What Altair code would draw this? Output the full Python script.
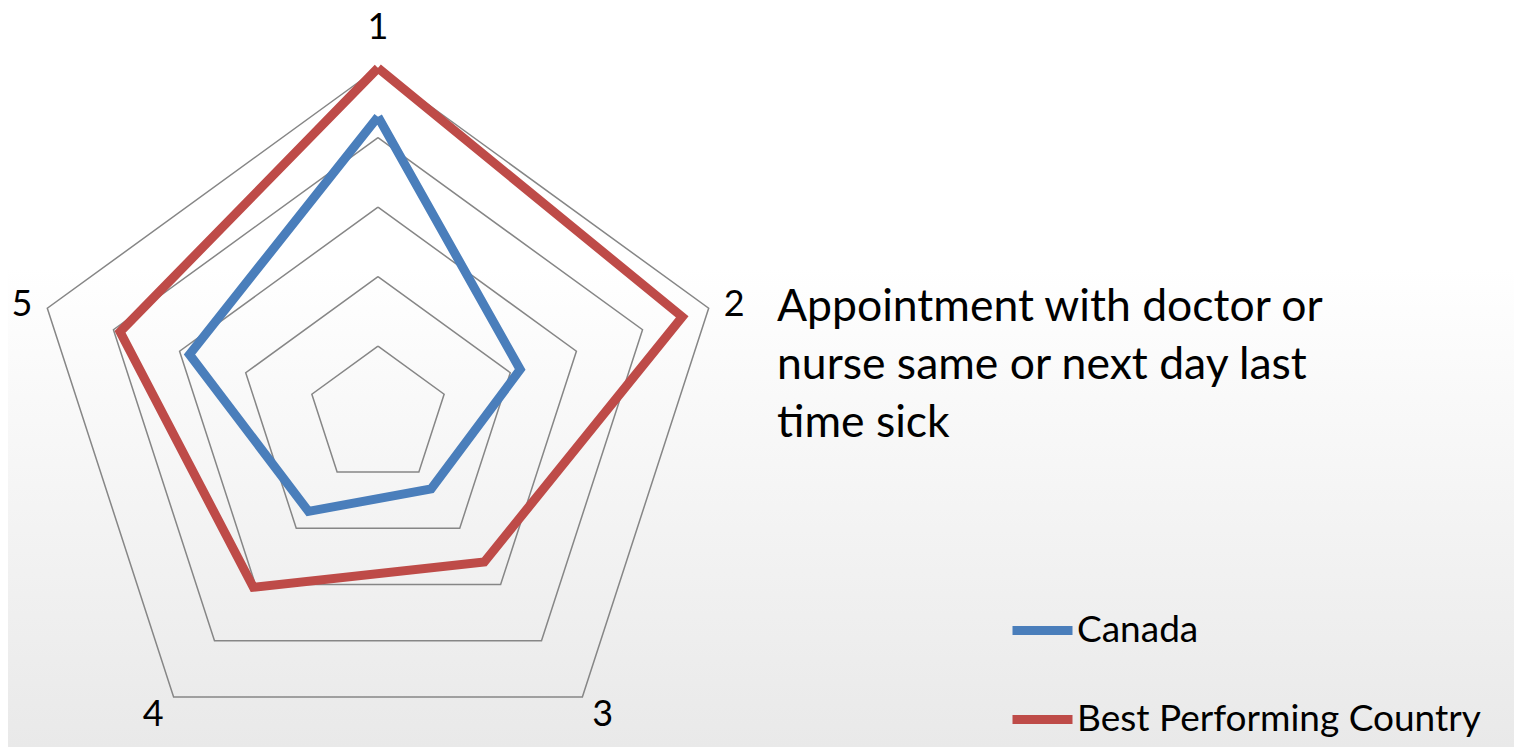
import altair as alt
import pandas as pd

# ---- data ----
axis_labels = ["1", "2", "3", "4", "5"]
canada = [86, 43, 26, 34, 57]
best = [100, 92, 52, 61, 78]
series_names = ["Canada", "Best Performing Country"]
ring_levels = [20, 40, 60, 80, 100]
title_lines = ["Appointment with doctor or", "nurse same or next day last", "time sick"]

BLUE = "#4A7EBB"
RED = "#BE4B48"
GRID = "#868686"
FONT = "Lato"

W, H = 1506, 739
xs = alt.Scale(domain=[-106.41, 326.72], nice=False, zero=False)
ys = alt.Scale(domain=[-95.28, 117.26], nice=False, zero=False)

n = len(axis_labels)

# series table (closed polygons)
rows = []
for name, vals in zip(series_names, [canada, best]):
    for k in range(n + 1):
        rows.append({"series": name, "k": k, "value": vals[k % n]})
series_df = pd.DataFrame(rows)

ring_rows = []
for lvl in ring_levels:
    for k in range(n + 1):
        ring_rows.append({"level": lvl, "k": k, "value": lvl})
ring_df = pd.DataFrame(ring_rows)

label_df = pd.DataFrame({"label": axis_labels, "k": list(range(n)), "value": [100] * n})

def polar(ch):
    return ch.transform_calculate(
        angle=f"datum.k * 2 * PI / {n}"
    ).transform_calculate(
        px="datum.value * sin(datum.angle)",
        py="datum.value * cos(datum.angle)",
    )

bg = alt.Chart(pd.DataFrame({"a": [0]})).mark_rect(
    color=alt.LinearGradient(
        gradient="linear",
        stops=[alt.GradientStop(color="#ffffff", offset=0.35),
               alt.GradientStop(color="#e9e9e9", offset=1)],
        x1=0, x2=0, y1=0, y2=1,
    )
).encode(x=alt.value(0), x2=alt.value(W), y=alt.value(0), y2=alt.value(H))

rings = polar(alt.Chart(ring_df)).mark_line(color=GRID, strokeWidth=1.5).encode(
    x=alt.X("px:Q", scale=xs, axis=None),
    y=alt.Y("py:Q", scale=ys, axis=None),
    detail="level:N",
    order="k:Q",
)

lines = polar(alt.Chart(series_df)).mark_line(strokeWidth=9, strokeJoin="miter").encode(
    x=alt.X("px:Q", scale=xs, axis=None),
    y=alt.Y("py:Q", scale=ys, axis=None),
    color=alt.Color(
        "series:N",
        scale=alt.Scale(domain=series_names, range=[BLUE, RED]),
        legend=alt.Legend(
            title=None, orient="none", legendX=1000, legendY=588,
            symbolType="stroke", symbolSize=3600, symbolStrokeWidth=9,
            labelFont=FONT, labelFontSize=37, labelColor="black", labelLimit=800,
            rowPadding=36, labelOffset=0, padding=0,
        ),
    ),
    order="k:Q",
)

label_styles = [
    ("center", "alphabetic", 0, -29),
    ("left", "middle", 15, -3),
    ("left", "top", 10, 1),
    ("right", "top", -10, 1),
    ("right", "middle", -15, -3),
]
label_layers = []
for i, (al, bl, dx, dy) in enumerate(label_styles):
    label_layers.append(
        polar(alt.Chart(label_df)).transform_filter(f"datum.k == {i}").mark_text(
            align=al, baseline=bl, dx=dx, dy=dy, font=FONT, fontSize=36, color="black"
        ).encode(
            x=alt.X("px:Q", scale=xs, axis=None),
            y=alt.Y("py:Q", scale=ys, axis=None),
            text="label:N",
        )
    )

title = alt.Chart(pd.DataFrame({"a": [0]})).mark_text(
    text=title_lines, align="left", baseline="alphabetic", font=FONT,
    fontSize=44.5, lineHeight=58, color="black",
).encode(x=alt.value(769), y=alt.value(313))

chart = alt.layer(bg, rings, lines, *label_layers, title).properties(
    width=W, height=H, autosize=alt.AutoSizeParams(type="none"), padding=0,
    background="white",
).configure_view(stroke=None)

chart.save("out.html", embed_options={"renderer": "svg", "actions": False})
